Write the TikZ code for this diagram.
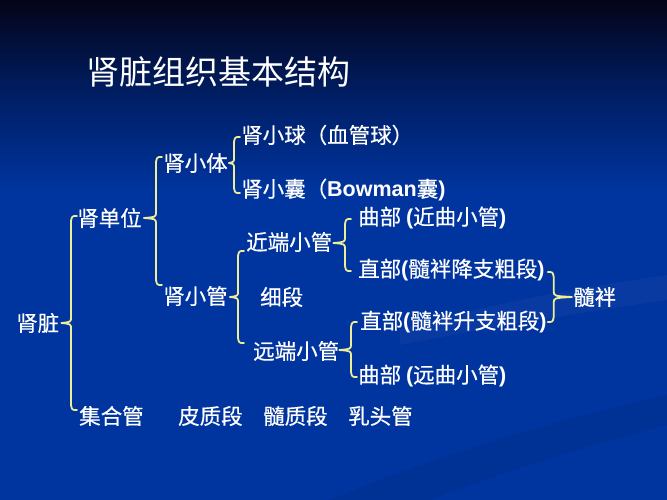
\documentclass[tikz,border=0pt]{standalone}
\usepackage{fontspec}
\setmainfont{Noto Sans CJK SC}[FakeBold=0.45]
\newfontfamily\ttlfont{Noto Sans CJK SC}
\newfontfamily\lat{Liberation Sans}
\usetikzlibrary{calc}
\definecolor{bgtop}{RGB}{4,4,24}
\definecolor{bgmid}{RGB}{0,30,100}
\definecolor{bgblue}{RGB}{0,52,158}
\definecolor{bry}{RGB}{238,238,150}
\newcommand\lbr[3]{%
 \draw[br] let \p1=(#1), \p2=(#2), \p3=(#3) in
  (\x1,\y1) .. controls ({\x1-5pt},\y1) .. ({\x1-6pt},{\y1-5pt})
  -- ({\x1-6pt},{\y2+6pt}) .. controls ({\x1-6pt},{\y2+1pt}) .. (\x2,\y2)
  .. controls ({\x1-6pt},{\y2-1pt}) .. ({\x1-6pt},{\y2-6pt})
  -- ({\x1-6pt},{\y3+5pt}) .. controls ({\x1-5pt},\y3) .. (\x1,\y3);}
\newcommand\rbr[3]{%
 \draw[br] let \p1=(#1), \p2=(#2), \p3=(#3) in
  (\x1,\y1) .. controls ({\x1+5pt},\y1) .. ({\x1+6pt},{\y1-5pt})
  -- ({\x1+6pt},{\y2+6pt}) .. controls ({\x1+6pt},{\y2+1pt}) .. (\x2,\y2)
  .. controls ({\x1+6pt},{\y2-1pt}) .. ({\x1+6pt},{\y2-6pt})
  -- ({\x1+6pt},{\y3+5pt}) .. controls ({\x1+5pt},\y3) .. (\x1,\y3);}
\newcommand\bp[1]{{\lat\bfseries #1}}
\begin{document}
\begin{tikzpicture}[x=1pt,y=-1pt,
  txt/.style={anchor=west,inner sep=0pt,text=white,font=\fontsize{21.5}{22}\selectfont},
  ttl/.style={anchor=west,inner sep=0pt,text=white,font=\ttlfont\fontsize{33}{34}\selectfont},
  br/.style={draw=bry,line width=1.8pt,line cap=round,line join=round}]
\useasboundingbox (0,0) rectangle (667,500);
% background
\fill[bgblue] (0,0) rectangle (667,500);
\shade[top color=bgtop,bottom color=bgblue,middle color=bgmid] (0,0) rectangle (667,190);
\fill[white,opacity=0.03] (400,330) .. controls (500,300) and (600,285) .. (667,275) -- (667,300) .. controls (600,310) and (500,325) .. (400,345) -- cycle;
\fill[black,opacity=0.05] (330,500) .. controls (450,450) and (560,420) .. (667,395) -- (667,425) .. controls (570,450) and (480,480) .. (430,500) -- cycle;
% title
\node[ttl] (title) at (86,72) {肾脏组织基本结构};
% nodes
\node[txt] (r1) at (241,135) {肾小球（血管球）};
\node[txt] (ti) at (163,163) {肾小体};
\node[txt] (r2) at (241,190) {肾小囊（\bp{Bowman}囊\bp{)}};
\node[txt] (dw) at (77,218) {肾单位};
\node[txt] (q1) at (358,218) {曲部 \bp{(}近曲小管\bp{)}};
\node[txt] (jd) at (246,242) {近端小管};
\node[txt] (z1) at (358,270) {直部\bp{(}髓袢降支粗段\bp{)}};
\node[txt] (xg) at (163,296) {肾小管};
\node[txt] (xd) at (260,297) {细段};
\node[txt] (sp) at (573,297) {髓袢};
\node[txt] (sz) at (16,323) {肾脏};
\node[txt] (z2) at (360,322) {直部\bp{(}髓袢升支粗段\bp{)}};
\node[txt] (yd) at (253,351) {远端小管};
\node[txt] (q2) at (358,376) {曲部 \bp{(}远曲小管\bp{)}};
\node[txt] (jh) at (79,416) {集合管};
\node[txt] (pz) at (178,416) {皮质段};
\node[txt] (sd) at (263,416) {髓质段};
\node[txt] (rt) at (348,416) {乳头管};
% brace end points
\coordinate (aT) at ($(dw.west)+(0,-2)$);
\coordinate (aM) at ($(sz.east)+(2,0)$);
\coordinate (aB) at ($(jh.west)+(-2,-6)$);
\coordinate (bT) at ($(ti.west)+(-1,-6)$);
\coordinate (bM) at ($(dw.east)+(2,0)$);
\coordinate (bB) at ($(xg.west)+(-1,-11)$);
\coordinate (cT) at ($(r1.west)+(-1,2)$);
\coordinate (cM) at ($(ti.east)+(1,0)$);
\coordinate (cB) at ($(r2.west)+(-1,3)$);
\coordinate (dT) at ($(jd.west)+(-2,9)$);
\coordinate (dM) at ($(xg.east)+(2,1)$);
\coordinate (dB) at ($(yd.west)+(-9,-8)$);
\coordinate (eT) at ($(q1.west)+(-7,1)$);
\coordinate (eM) at ($(jd.east)+(1,1)$);
\coordinate (eB) at ($(z1.west)+(-7,1)$);
\coordinate (fT) at ($(z2.west)+(-3,0)$);
\coordinate (fM) at ($(yd.east)+(0,-1)$);
\coordinate (fB) at ($(q2.west)+(-1,1)$);
\coordinate (gT) at ($(z1.east)+(3,2)$);
\coordinate (gM) at ($(sp.west)+(-1,0)$);
\coordinate (gB) at ($(z2.east)+(2,0)$);
% braces
\lbr{aT}{aM}{aB}
\lbr{bT}{bM}{bB}
\lbr{cT}{cM}{cB}
\lbr{dT}{dM}{dB}
\lbr{eT}{eM}{eB}
\lbr{fT}{fM}{fB}
\rbr{gT}{gM}{gB}
\end{tikzpicture}
\end{document}
